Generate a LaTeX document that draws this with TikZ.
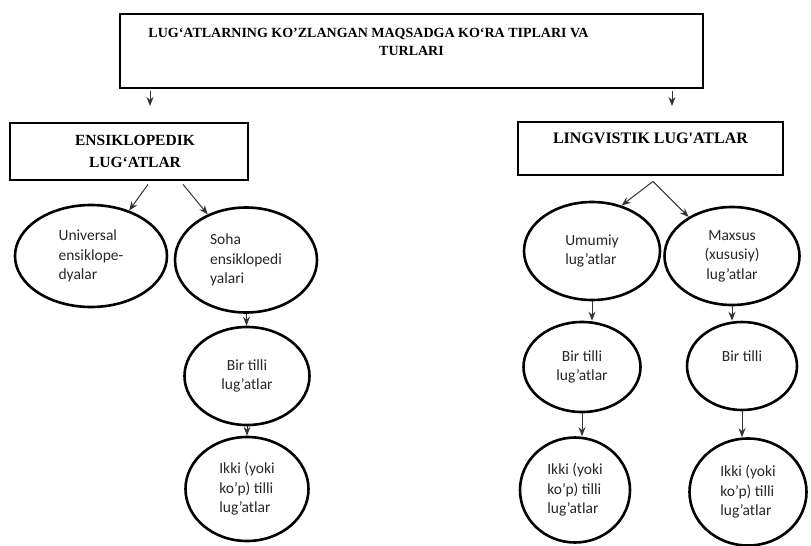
\documentclass[tikz,border=0pt]{standalone}
\usepackage{fontspec}
\setmainfont{Carlito}
\newfontfamily\headfont{Liberation Serif}
\usetikzlibrary{shapes.geometric,arrows.meta}

\begin{document}
\begin{tikzpicture}[%
    x=1pt, y=-1pt,
    headBox/.style={%
        draw,
        rectangle,
        line width=2.8pt,
        inner sep=2pt,
        align=center,
        font=\headfont\bfseries
    },
    kind/.style={%
        draw,
        ellipse,
        line width=2.6pt,
        inner sep=0pt,
        align=center,
        font=\fontsize{15.5}{19.5}\selectfont,
        text=black!85
    },
    link/.style={%
        ->,
        line width=1pt,
        draw=black!80
    },
    >={Stealth[length=9pt,width=7pt]}
]
\useasboundingbox (0,0) rectangle (811,546);

% Title
    \node[headBox, minimum width=583pt, minimum height=74pt,
        font=\headfont\bfseries\fontsize{14}{18}\selectfont] (title) at (411.5,51)
        {LUG‘ATLARNING KO’ZLANGAN MAQSADGA KO‘RA TIPLARI VA\hspace*{86pt}\\TURLARI\\\mbox{}};
    \coordinate (titleLeft) at (150,106);
    \coordinate (titleRight) at (672,106);

% Types
    \node[headBox, minimum width=238pt, minimum height=57pt,
        font=\headfont\bfseries\fontsize{15.5}{22}\selectfont] (ensiklopedik) at (129,151.5)
        {\hspace*{12pt}ENSIKLOPEDIK\\\hspace*{12pt}LUG‘ATLAR};
    \node[headBox, minimum width=265pt, minimum height=53pt,
        font=\headfont\bfseries\fontsize{16}{20}\selectfont] (lingvistik) at (650.5,148.5)
        {LINGVISTIK LUG'ATLAR\\\mbox{}};

% Ensiklopedik lug'atlar
    \node[kind, align=left, minimum width=152pt, minimum height=102pt] (universal) at (91,256)
        {Universal\\ensiklope-\\dyalar};
    \node[kind, align=left, minimum width=142pt, minimum height=105pt] (soha) at (246,260)
        {Soha\\ensiklopedi\\yalari};
    \node[kind, minimum width=125pt, minimum height=98pt] (birTilli1) at (247,376)
        {Bir tilli\\lug’atlar};
    \node[kind, align=left, minimum width=123pt, minimum height=104pt] (ikkiTilli1) at (247,489)
        {Ikki (yoki\\ko’p) tilli\\lug’atlar};

% Lingvistik lug'atlar
    \node[kind, align=left, minimum width=136pt, minimum height=98pt] (umumiy) at (592,251)
        {Umumiy\\lug’atlar};
    \node[kind, minimum width=135pt, minimum height=98pt] (maxsus) at (732,256)
        {Maxsus\\(xususiy)\\lug’atlar};
    \node[kind, minimum width=117pt, minimum height=90pt] (birTilli2) at (582,367)
        {Bir tilli\\lug’atlar};
    \node[kind, minimum width=110pt, minimum height=88pt] (birTilli3) at (742,366)
        {Bir tilli\\\mbox{}};
    \node[kind, align=left, minimum width=110pt, minimum height=105pt] (ikkiTilli2) at (575,490)
        {Ikki (yoki\\ko’p) tilli\\lug’atlar};
    \node[kind, align=left, minimum width=117pt, minimum height=107pt] (ikkiTilli3) at (748,492)
        {Ikki (yoki\\ko’p) tilli\\lug’atlar};

% Arrows
\draw[link, shorten <=2pt] (title.south -| titleLeft) -- (titleLeft);
\draw[link, shorten <=2pt] (title.south -| titleRight) -- (titleRight);

\draw[link] ([xshift=19pt,yshift=-3pt]ensiklopedik.south) -- (universal.50);
\draw[link] ([xshift=54pt,yshift=-3pt]ensiklopedik.south) -- (soha.130);

\draw[link] ([xshift=2.5pt,yshift=-5pt]lingvistik.south) -- (umumiy.57);
\draw[link] ([xshift=2.5pt,yshift=-5pt]lingvistik.south) -- (maxsus.138);

\draw[link] (soha) -- (birTilli1);
\draw[link] (birTilli1) -- (ikkiTilli1);

\draw[link] (umumiy) -- (umumiy |- birTilli2.north);
\draw[link] (birTilli2) -- (birTilli2 |- ikkiTilli2.north);
\draw[link] (maxsus) -- (maxsus |- birTilli3.north);
\draw[link] (birTilli3) -- (birTilli3 |- ikkiTilli3.north);

\end{tikzpicture}
\end{document}
